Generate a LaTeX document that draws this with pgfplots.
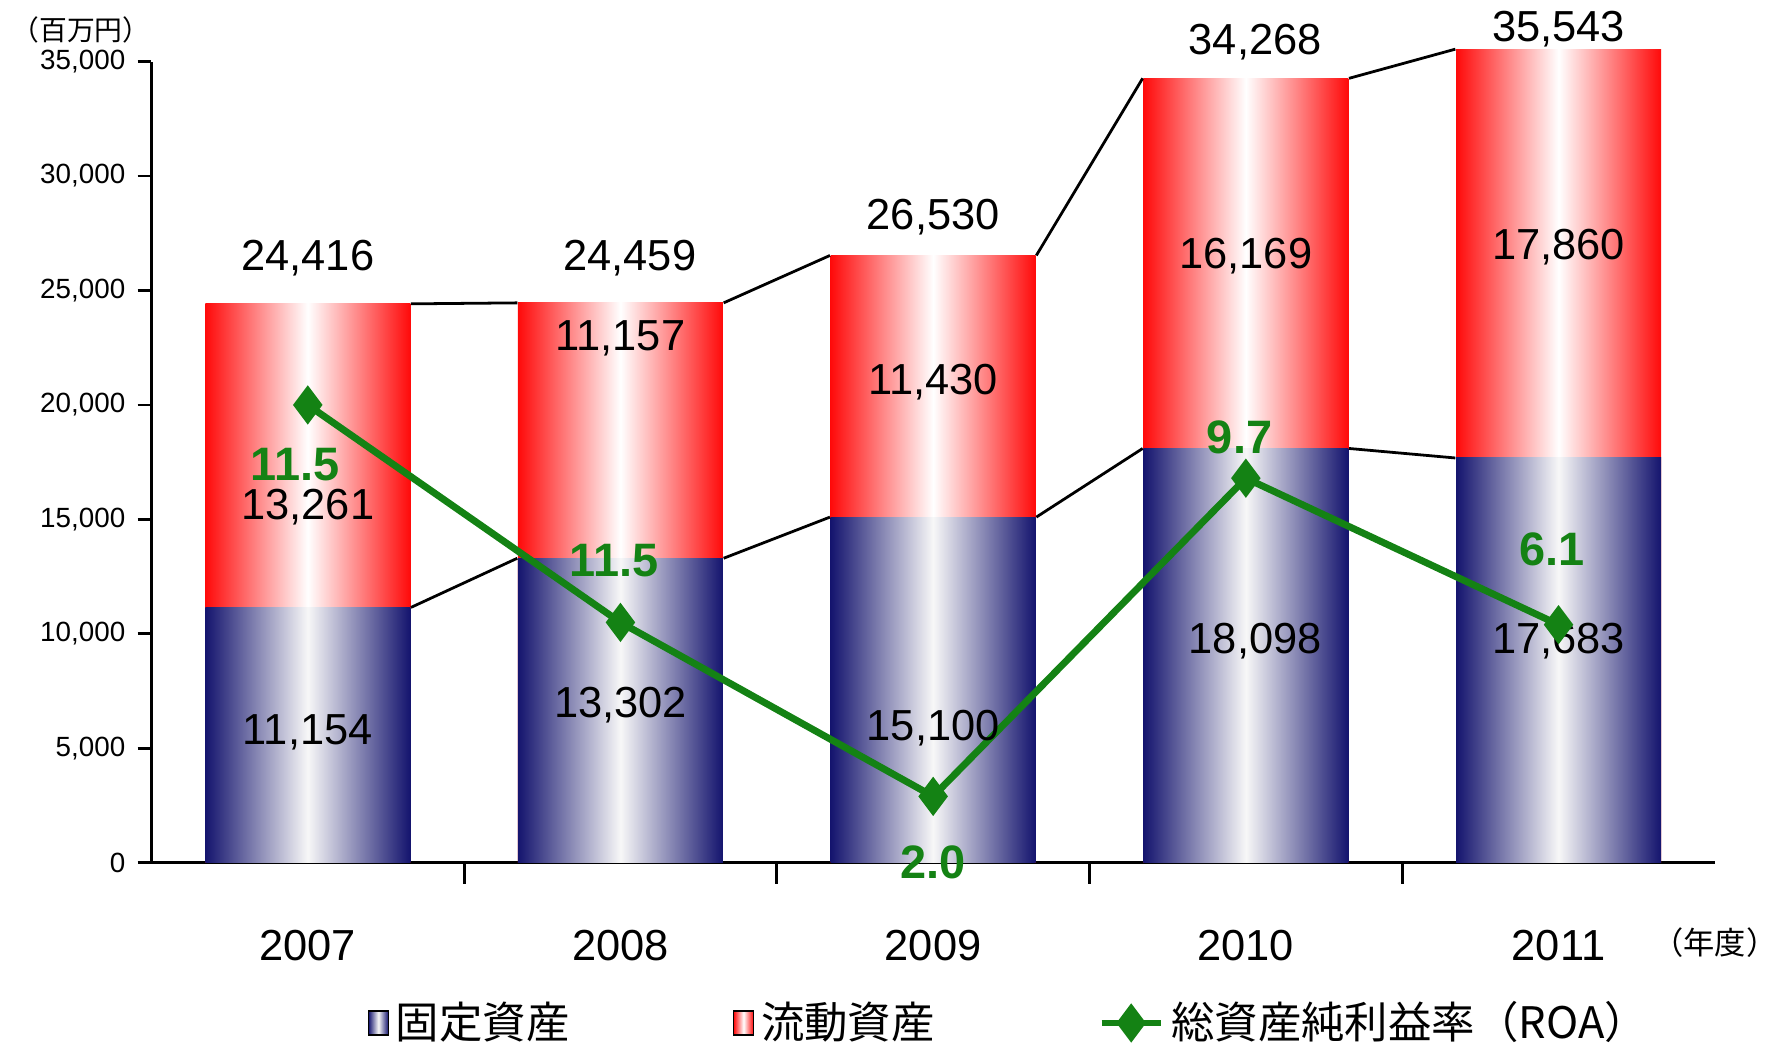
\documentclass[border=0pt]{standalone}
\usepackage{fontspec}
\setmainfont{Liberation Sans}
\newfontfamily\cjk{Noto Sans CJK JP}
\usepackage{pgfplots}
\pgfplotsset{compat=1.18}
\definecolor{navyc}{RGB}{20,20,110}
\definecolor{redc}{RGB}{255,10,10}
\definecolor{greenc}{RGB}{20,130,20}
\pgfdeclarehorizontalshading{blueshade}{100bp}{color(0bp)=(navyc); color(25bp)=(navyc); color(50bp)=(white!94!gray); color(75bp)=(navyc); color(100bp)=(navyc)}
\pgfdeclarehorizontalshading{redshade}{100bp}{color(0bp)=(redc); color(25bp)=(redc); color(50bp)=(white); color(75bp)=(redc); color(100bp)=(redc)}
\begin{document}
\begin{tikzpicture}
\pgfplotsset{common/.style={width=450pt,height=230.6pt,scale only axis,
  xmin=-0.5,xmax=4.5,ymin=0,ymax=35000},
  rb/.style={ybar,bar width=59pt,bar shift=0pt,draw=none,shading=redshade,forget plot},
  bb/.style={ybar,bar width=59pt,bar shift=0pt,draw=none,shading=blueshade,forget plot}}
\begin{axis}[common, clip=false,
  axis x line*=bottom, axis y line*=left,
  xtick={0,1,2,3,4}, xticklabels={2007,2008,2009,2010,2011},
  minor xtick={0.5,1.5,2.5,3.5},
  major x tick style={draw=none}, minor tick length=6pt,
  tick align=outside, major tick length=4pt,
  xticklabel style={font=\fontsize{12.5}{14}\selectfont, yshift=-12pt},
  ytick={0,5000,...,35000},
  yticklabel style={font=\fontsize{8}{9}\selectfont},
  /pgf/number format/.cd, 1000 sep={,}, assume math mode=true,
  /pgfplots/.cd,
  scaled y ticks=false,
  axis line style={line width=0.9pt}, tick style={line width=0.8pt,black},
  legend style={at={(0.55,-0.2)},anchor=center,draw=none,legend columns=3,
    font=\cjk\fontsize{12.5}{14}\selectfont,
    /tikz/every even column/.append style={column sep=45pt}},
]
\addplot[rb] coordinates {(0,24416)};
\addplot[rb] coordinates {(1,24459)};
\addplot[rb] coordinates {(2,26530)};
\addplot[rb] coordinates {(3,34268)};
\addplot[rb] coordinates {(4,35543)};
\addplot[bb] coordinates {(0,11154)};
\addplot[bb] coordinates {(1,13302)};
\addplot[bb] coordinates {(2,15100)};
\addplot[bb] coordinates {(3,18098)};
\addplot[bb] coordinates {(4,17683)};
\addlegendimage{legend image code/.code={\path[shading=blueshade] (0.25cm,-0.12cm) rectangle (0.45cm,0.12cm);}}
\addlegendentry{固定資産}
\addlegendimage{legend image code/.code={\path[shading=redshade] (0.25cm,-0.12cm) rectangle (0.45cm,0.12cm);}}
\addlegendentry{流動資産}
\addlegendimage{greenc,line width=2pt,mark=diamond*,mark size=4pt,mark options={solid}}
\addlegendentry{総資産純利益率（ROA）}
\addplot[black,line width=0.8pt,unbounded coords=jump,forget plot] table {
x y
0.33 11154
0.67 13302
nan nan
1.33 13302
1.67 15100
nan nan
2.33 15100
2.67 18098
nan nan
3.33 18098
3.67 17683
nan nan
0.33 24416
0.67 24459
nan nan
1.33 24459
1.67 26530
nan nan
2.33 26530
2.67 34268
nan nan
3.33 34268
3.67 35543
};
\addplot[greenc,line width=2pt,mark=diamond*,mark size=4pt,forget plot] coordinates {(0,20000) (1,10500) (2,2900) (3,16800) (4,10400)};
\begin{scope}[font=\fontsize{12.5}{14}\selectfont]
\node at (axis cs:0,5700) {11,154};
\node at (axis cs:0,15550) {13,261};
\node at (axis cs:0,26400) {24,416};
\node at (axis cs:1,6900) {13,302};
\node at (axis cs:1,22900) {11,157};
\node at (axis cs:1.03,26400) {24,459};
\node at (axis cs:2,5900) {15,100};
\node at (axis cs:2,21000) {11,430};
\node at (axis cs:2,28200) {26,530};
\node at (axis cs:3.03,9700) {18,098};
\node at (axis cs:3,26500) {16,169};
\node at (axis cs:3.03,35850) {34,268};
\node at (axis cs:4,9700) {17,683};
\node at (axis cs:4,26900) {17,860};
\node at (axis cs:4,36400) {35,543};
\end{scope}
\begin{scope}[font=\bfseries\fontsize{13.5}{15}\selectfont,text=greenc]
\node at (axis cs:-0.04,17400) {11.5};
\node at (axis cs:0.98,13200) {11.5};
\node at (axis cs:2,0) {2.0};
\node at (axis cs:2.98,18600) {9.7};
\node at (axis cs:3.98,13700) {6.1};
\end{scope}
\node[font=\cjk\fontsize{8}{10}\selectfont] at (rel axis cs:-0.045,1.04) {（百万円）};
\node[font=\cjk\fontsize{9}{11}\selectfont] at (rel axis cs:1.0,-0.1) {（年度）};
\pgfresetboundingbox
\path (rel axis cs:-0.091,-0.233) rectangle (rel axis cs:1.02,1.076);
\end{axis}
\end{tikzpicture}
\end{document}
